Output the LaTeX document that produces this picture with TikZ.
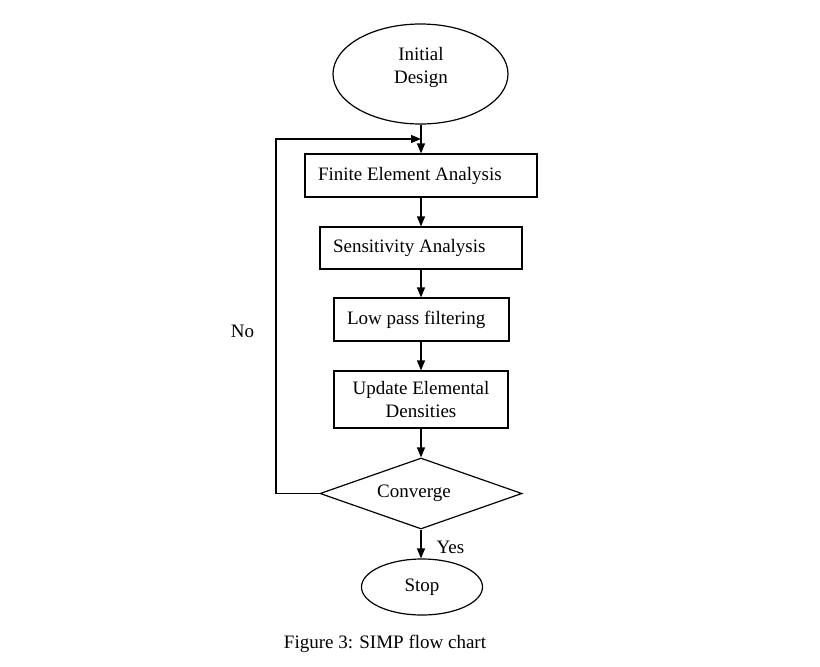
\documentclass[tikz,border=0pt]{standalone}
\usepackage{fontspec}
\setmainfont{Liberation Serif}
\usetikzlibrary{shapes.geometric,arrows.meta}
\begin{document}
\begin{tikzpicture}[x=1pt,y=-1pt,
  every node/.style={font=\fontsize{19}{22.5}\selectfont},
  conn/.style={line width=1.2pt},
  arr/.style={line width=1.2pt,-{Triangle[length=10pt,width=8pt]}},
  procbox/.style={draw,line width=1.2pt,rectangle,inner ysep=0pt,inner xsep=13pt,align=flush left},
  termshape/.style={draw,line width=1.2pt,ellipse,inner sep=0pt},
  decshape/.style={draw,line width=1.2pt,diamond,inner sep=0pt}
]
\useasboundingbox (0,0) rectangle (820,667);

% start ellipse
\node[termshape,minimum width=175pt,minimum height=100pt] (init) at (420.5,74) {};
\node[align=center] (inittext) at (421,67.4) {Initial\\Design};

% process boxes
\node[procbox,text width=206pt,minimum height=43pt] (fea) at (421,175.5) {Finite Element Analysis};
\node[procbox,text width=176pt,minimum height=42pt] (sens) at (421,248) {Sensitivity Analysis};
\node[procbox,text width=149pt,minimum height=43pt] (low) at (421.5,319.5) {Low pass filtering};
\node[draw,line width=1.2pt,rectangle,inner sep=0pt,align=center,minimum width=174pt,minimum height=57pt] (upd) at (421,399.5) {Update Elemental\\Densities};

% decision
\node[decshape,minimum width=202pt,minimum height=71pt] (conv) at (421,493.5) {};
\node[anchor=base] (convtext) at (414,497) {Converge};

% stop
\node[termshape,minimum width=121pt,minimum height=56pt] (stop) at (422,587) {Stop};

% connectors
\draw[arr] (init.south -| fea.north) -- (fea.north);
\draw[arr] (fea.south) -- (sens.north -| fea.south);
\draw[arr] (sens.south -| fea.south) -- (low.north -| fea.south);
\draw[arr] (low.south -| fea.south) -- (upd.north -| fea.south);
\draw[arr] (upd.south -| fea.south) -- (conv.north -| fea.south);
\draw[arr] (conv.south -| fea.south) -- (stop.north -| fea.south);

% feedback loop
\coordinate (fbA) at (276,493.5);
\coordinate (fbB) at (276,139);
\coordinate (fbC) at (421,139);
\draw[arr] (conv.west) -- (fbA) -- (fbB) -- (fbC);

% labels
\node[anchor=base west] (yes) at (433,553) {Yes};
\node[anchor=base] (no) at (242.5,337) {No};
\node[anchor=base] (caption) at (385,648) {Figure 3: SIMP flow chart};
\end{tikzpicture}
\end{document}
